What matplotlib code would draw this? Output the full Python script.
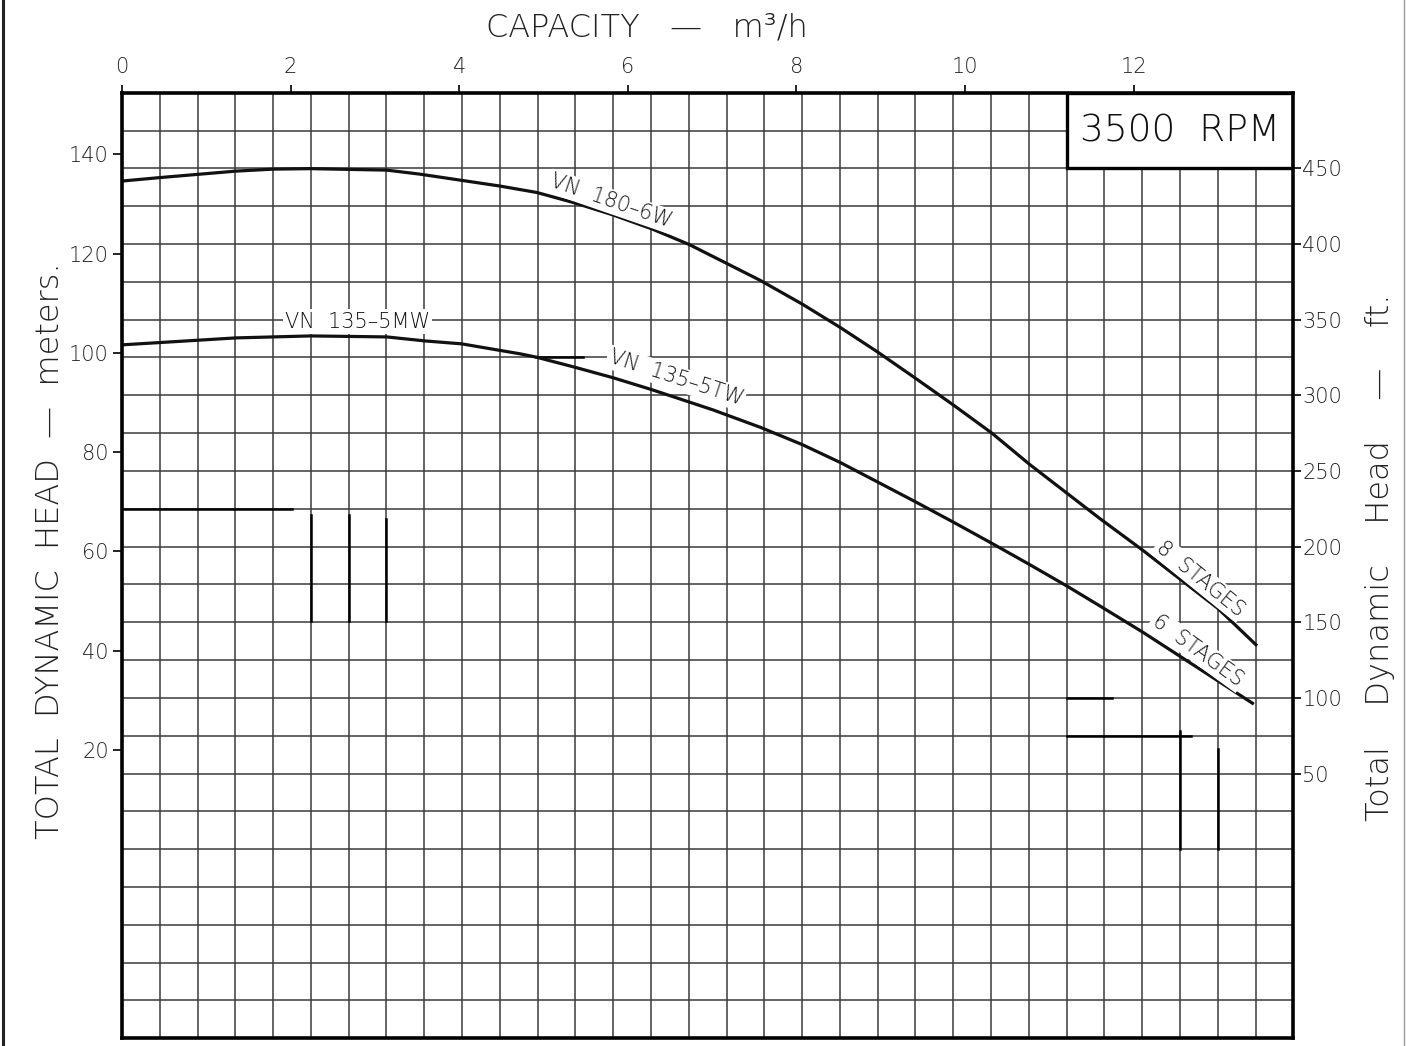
import numpy as np
import matplotlib.pyplot as plt
from matplotlib.lines import Line2D

FT = 0.3048

# capacity (m3/h) and head (m)
q_180_6w = [0, 0.45, 1.35, 1.79, 2.24, 3.14, 3.53, 4.48, 4.92, 5.37, 5.82, 6.28, 6.73, 7.57,
            8.07, 8.52, 8.96, 9.41, 9.86, 10.32, 10.76, 11.21, 11.60, 12.11, 13.00, 13.45]
h_180_6w = [134.6, 135.3, 136.6, 137.0, 137.1, 136.8, 136.0, 133.6, 132.3, 130.2, 127.8, 125.0,
            121.8, 114.6, 109.8, 105.1, 100.2, 94.9, 89.5, 83.8, 77.6, 71.7, 66.6, 60.2, 48.5, 41.2]

q_135_5 = [0, 1.35, 2.24, 3.14, 3.59, 4.03, 4.72, 4.92, 5.37, 5.82, 6.28, 7.01, 7.57,
           8.07, 8.52, 8.96, 9.41, 9.86, 10.32, 10.76, 11.21, 11.60, 12.11, 13.41]
h_135_5 = [101.6, 103.0, 103.4, 103.2, 102.4, 101.8, 99.8, 99.1, 97.1, 95.0, 92.6, 88.5, 85.0,
           81.5, 77.9, 74.0, 70.0, 65.9, 61.6, 57.4, 53.0, 49.0, 43.7, 29.4]

x_ticks = [0, 2, 4, 6, 8, 10, 12]
m_ticks = [20, 40, 60, 80, 100, 120, 140]
ft_ticks = [50, 100, 150, 200, 250, 300, 350, 400, 450]

# curve labels: text, capacity, head (m), angle
labels = [
    ("VN  135\u20135MW", 2.79, 106.3, 0),
    ("VN  180\u20136W", 5.80, 130.5, -19),
    ("VN  135\u20135TW", 6.57, 94.9, -18),
    ("8  STAGES", 12.79, 54.5, -39),
    ("6  STAGES", 12.76, 40.0, -36),
]

xmax = 13.894
ft_lo, ft_hi = -125, 500
ncols = 31

plt.rcParams['font.family'] = ['DejaVu Sans']
plt.rcParams['font.weight'] = 200
fig = plt.figure(figsize=(14.08, 10.46), dpi=100)
ax = fig.add_axes([0.08665, 0.00736, 0.83189, 0.90402])
ax.set_xlim(0, xmax)
ax.set_ylim(ft_lo * FT, ft_hi * FT)

# grid (2 gpm x 25 ft squares)
gcol = '#3a3a3a'
for xv in np.linspace(0, xmax, ncols + 1)[1:-1]:
    ax.axvline(xv, color=gcol, lw=1.1, zorder=1)
for fv in range(ft_lo + 25, ft_hi, 25):
    ax.axhline(fv * FT, color=gcol, lw=1.1, zorder=1)

# darker leftover grid pieces in the scan: (ft level, from col, to col)
cw = xmax / ncols
dark_h = [(225, 0, 4.5), (325, 10.95, 12.2), (100, 25, 26.2), (75, 25, 28.3)]
dark_v = [(5, 151, 221), (6, 151, 221), (7, 151, 218), (28, 0, 78), (29, 0, 66)]
for f, c0, c1 in dark_h:
    ax.plot([c0 * cw, c1 * cw], [f * FT, f * FT], color='black', lw=1.8, zorder=2)
for c, f0, f1 in dark_v:
    ax.plot([c * cw, c * cw], [f0 * FT, f1 * FT], color='black', lw=1.8, zorder=2)

for qq, hh in [(q_180_6w, h_180_6w), (q_135_5, h_135_5)]:
    ax.plot(qq, hh, color='#111111', lw=2.3, zorder=4, solid_joinstyle='round')

for txt, xq, yh, ang in labels:
    ax.text(xq, yh, txt, rotation=ang, rotation_mode='anchor', ha='center', va='center',
            fontsize=15, color='#111111', zorder=5,
            bbox=dict(facecolor='white', edgecolor='none', pad=1.5))

# RPM box
ax.fill([25 * cw, xmax, xmax, 25 * cw], [450 * FT, 450 * FT, 500 * FT, 500 * FT],
        facecolor='white', edgecolor='black', lw=2.4, zorder=6)
ax.text((25 * cw + xmax) / 2, 475 * FT, "3500  RPM", ha='center', va='center',
        fontsize=27, color='#111111', zorder=7)

for s in ax.spines.values():
    s.set_linewidth(2.6)
    s.set_zorder(8)

ax.xaxis.tick_top()
ax.set_xticks(x_ticks)
ax.set_xticklabels([str(v) for v in x_ticks])
ax.tick_params(axis='x', direction='out', length=5.5, width=1.2, pad=6, labelsize=15,
               labelcolor='#222222')
ax.set_yticks(m_ticks)
ax.set_yticklabels([str(v) for v in m_ticks])
ax.tick_params(axis='y', direction='out', length=6.5, width=1.2, pad=3, labelsize=15,
               labelcolor='#222222')

ax2 = ax.twinx()
ax2.set_ylim(ft_lo, ft_hi)
ax2.set_yticks(ft_ticks)
ax2.set_yticklabels([str(v) for v in ft_ticks])
ax2.tick_params(axis='y', direction='out', length=5.5, width=1.2, pad=1, labelsize=15,
                labelcolor='#222222')
for s in ax2.spines.values():
    s.set_visible(False)

fig.text(647 / 1408, 1 - 27 / 1046, "CAPACITY   \u2014   m\u00b3/h", ha='center', va='center',
         fontsize=23, color='#222222')
fig.text(50 / 1408, 1 - 551 / 1046, "TOTAL  DYNAMIC  HEAD  \u2014  meters.", rotation=90,
         ha='center', va='center', fontsize=23, color='#222222')
fig.text(1380 / 1408, 1 - 557 / 1046, "Total    Dynamic    Head    \u2014    ft.", rotation=90,
         ha='center', va='center', fontsize=23, color='#222222')

# scan frame edges
fig.add_artist(Line2D([3 / 1408, 3 / 1408], [0, 1], color='#222222', lw=2.2))
fig.add_artist(Line2D([1404 / 1408, 1404 / 1408], [0, 1], color='#999999', lw=1.0))

fig.savefig('out.png', dpi=100)
